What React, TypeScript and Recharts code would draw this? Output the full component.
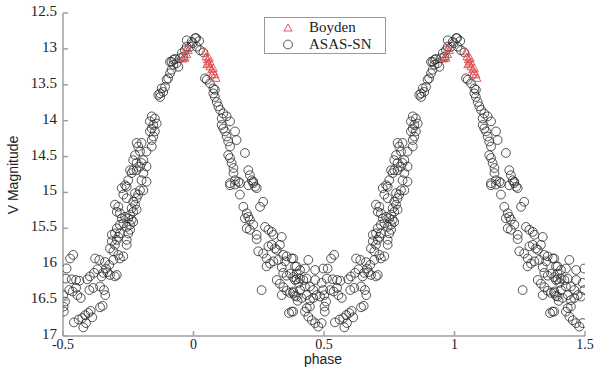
import { ScatterChart, Scatter, XAxis, YAxis, Label } from 'recharts';

const minimumLeft: [number, number][] = [
  [-0.486, 16.06], [-0.473, 15.92], [-0.461, 15.87], [-0.489, 16.2], [-0.467, 16.21], [-0.45, 16.22],
  [-0.437, 16.23], [-0.476, 16.36], [-0.463, 16.38], [-0.45, 16.33], [-0.445, 16.43], [-0.432, 16.47],
  [-0.499, 16.43], [-0.492, 16.52], [-0.498, 16.59], [-0.497, 16.66], [-0.458, 16.81], [-0.44, 16.77],
  [-0.426, 16.75], [-0.415, 16.71], [-0.412, 16.82], [-0.422, 16.88], [-0.403, 16.68], [-0.394, 16.65],
  [-0.388, 16.74], [-0.358, 16.6], [-0.348, 16.58], [-0.407, 16.21], [-0.397, 16.17], [-0.381, 16.12],
  [-0.368, 16.07], [-0.377, 15.92], [-0.361, 15.94], [-0.339, 15.97], [-0.335, 16.06], [-0.33, 16.11],
  [-0.32, 16.15], [-0.301, 16.17], [-0.294, 16.15], [-0.358, 16.31], [-0.343, 16.36], [-0.338, 16.43],
  [-0.384, 16.33], [-0.399, 16.36], [-0.346, 16.12], [-0.352, 16.17], [-0.323, 16.01], [-0.307, 15.94],
];

const risingLow: [number, number][] = [
  [-0.307, 15.82], [-0.32, 15.78], [-0.301, 15.73], [-0.313, 15.68], [-0.294, 15.66], [-0.288, 15.62],
  [-0.301, 15.57], [-0.313, 15.59], [-0.282, 15.57], [-0.294, 15.5], [-0.282, 15.45], [-0.269, 15.43],
  [-0.275, 15.36], [-0.262, 15.34], [-0.25, 15.36], [-0.237, 15.38], [-0.231, 15.41], [-0.243, 15.45],
  [-0.256, 15.48], [-0.243, 15.52], [-0.25, 15.57], [-0.256, 15.73], [-0.269, 15.89], [-0.282, 15.92],
  [-0.288, 15.87], [-0.256, 15.66], [-0.243, 15.31], [-0.231, 15.27], [-0.237, 15.22], [-0.218, 15.24],
  [-0.224, 15.17], [-0.231, 15.13], [-0.218, 15.08], [-0.212, 15.03], [-0.224, 15.01], [-0.205, 14.97],
  [-0.192, 14.97], [-0.256, 15.08], [-0.269, 15.03], [-0.275, 14.94], [-0.262, 14.9], [-0.301, 15.17],
  [-0.288, 15.2], [-0.282, 15.29], [-0.294, 15.27],
];

const risingHigh: [number, number][] = [
  [-0.256, 14.92], [-0.25, 14.83], [-0.237, 14.73], [-0.231, 14.69], [-0.243, 14.69], [-0.218, 14.69],
  [-0.205, 14.64], [-0.199, 14.59], [-0.18, 14.64], [-0.192, 14.73], [-0.199, 14.83], [-0.18, 14.85],
  [-0.231, 14.55], [-0.224, 14.48], [-0.218, 14.59], [-0.192, 14.55], [-0.212, 14.36], [-0.218, 14.31],
  [-0.199, 14.31], [-0.205, 14.43], [-0.18, 14.43], [-0.16, 14.36], [-0.16, 14.27], [-0.154, 14.22],
  [-0.148, 14.15], [-0.16, 14.11], [-0.154, 14.06], [-0.167, 14.01], [-0.16, 13.94], [-0.148, 13.97],
  [-0.141, 14.04], [-0.167, 14.15], [-0.135, 13.64], [-0.128, 13.62], [-0.116, 13.6], [-0.122, 13.55],
  [-0.109, 13.53], [-0.128, 13.67], [-0.103, 13.43], [-0.097, 13.41], [-0.09, 13.34], [-0.084, 13.29],
];

const peak: [number, number][] = [
  [-0.077, 13.22], [-0.084, 13.18], [-0.09, 13.18], [-0.077, 13.15], [-0.071, 13.14], [-0.065, 13.2],
  [-0.058, 13.25], [-0.052, 13.13], [-0.039, 13.11], [-0.045, 13.06], [-0.033, 13.02], [-0.026, 12.97],
  [-0.013, 12.97], [-0.007, 12.9], [-0.026, 12.88], [0.006, 12.85], [0.01, 12.85], [0.022, 12.89],
  [-0.003, 12.92], [0.012, 12.97], [0.025, 13.02], [0.038, 13.05],
];

const fallingHigh: [number, number][] = [
  [0.044, 13.41], [0.051, 13.43], [0.063, 13.48], [0.076, 13.55], [0.082, 13.57], [0.076, 13.62],
  [0.082, 13.67], [0.089, 13.74], [0.095, 13.8], [0.102, 13.85], [0.114, 13.9], [0.127, 13.94],
  [0.108, 13.97], [0.14, 14.01], [0.108, 14.06], [0.114, 14.11], [0.121, 14.15], [0.127, 14.22],
  [0.133, 14.29], [0.159, 14.15], [0.165, 14.27], [0.14, 14.36], [0.133, 14.48], [0.14, 14.52],
  [0.146, 14.59], [0.153, 14.66], [0.153, 14.73], [0.159, 14.83], [0.172, 14.85], [0.178, 14.87],
  [0.14, 14.87], [0.197, 14.45], [0.21, 14.69], [0.216, 14.76], [0.223, 14.83], [0.229, 14.87],
  [0.236, 14.92],
];

const fallingLow: [number, number][] = [
  [0.14, 14.9], [0.159, 14.89], [0.178, 15.03], [0.191, 15.2], [0.21, 14.9], [0.229, 14.85],
  [0.242, 14.94], [0.255, 15.2], [0.267, 15.13], [0.204, 15.29], [0.21, 15.34], [0.216, 15.38],
  [0.197, 15.36], [0.204, 15.5], [0.216, 15.52], [0.229, 15.45], [0.242, 15.59], [0.242, 15.65],
  [0.274, 15.48], [0.287, 15.52], [0.306, 15.59], [0.338, 15.62], [0.3, 15.55], [0.248, 15.82],
  [0.267, 15.85], [0.28, 15.92], [0.287, 15.75], [0.3, 15.73], [0.312, 15.78], [0.319, 15.8],
  [0.331, 15.73], [0.28, 16.03], [0.293, 15.99], [0.306, 15.96], [0.325, 15.94], [0.344, 15.87],
  [0.357, 15.89], [0.376, 15.92], [0.395, 16.03], [0.351, 15.96], [0.338, 16.04], [0.344, 16.12],
  [0.357, 16.16], [0.37, 16.13], [0.382, 16.18], [0.395, 16.21], [0.319, 16.22], [0.331, 16.27],
  [0.344, 16.32], [0.357, 16.37], [0.37, 16.4], [0.382, 16.38], [0.338, 16.43], [0.389, 16.44],
  [0.399, 16.51], [0.261, 16.36], [0.366, 16.68], [0.382, 16.66],
];

const minimumRight: [number, number][] = [
  [0.382, 15.92], [0.389, 16.03], [0.395, 16.13], [0.408, 16.2], [0.389, 16.22], [0.402, 16.26],
  [0.421, 16.22], [0.434, 16.2], [0.427, 16.31], [0.408, 16.36], [0.382, 16.4], [0.395, 16.45],
  [0.414, 16.47], [0.434, 16.43], [0.446, 16.5], [0.459, 16.47], [0.472, 16.43], [0.485, 16.45],
  [0.497, 16.36], [0.491, 16.26], [0.466, 16.22], [0.446, 16.31], [0.459, 16.36], [0.376, 16.66],
  [0.427, 16.66], [0.44, 16.73], [0.453, 16.78], [0.466, 16.82], [0.478, 16.87], [0.491, 16.82],
  [0.434, 16.61], [0.446, 16.59], [0.497, 16.06], [0.44, 15.94], [0.466, 16.08], [0.408, 16.08],
  [0.427, 16.06],
];

// Boyden observations near maximum
const boydenPoints: [number, number][] = [
  [-0.041, 13.14], [-0.033, 13.13], [-0.026, 13.08], [-0.026, 12.99], [-0.02, 13.02], [-0.036, 13.11],
  [0.044, 13.04], [0.048, 13.11], [0.053, 13.15], [0.057, 13.2], [0.063, 13.25], [0.07, 13.29],
  [0.076, 13.32], [0.082, 13.36], [0.086, 13.41], [0.063, 13.18], [0.051, 13.22], [0.076, 13.27],
  [0.07, 13.36], [0.06, 13.13],
];

const xTicks = [-0.5, 0, 0.5, 1, 1.5];
const yTicks = [12.5, 13, 13.5, 14, 14.5, 15, 15.5, 16, 16.5, 17];

// the folded curve is drawn twice, one cycle apart
const fold = (pts: [number, number][]) =>
  pts.flatMap(([p, m]) => [{ x: p, y: m }, { x: p + 1, y: m }]);

const asasData = fold([
  ...minimumLeft, ...risingLow, ...risingHigh, ...peak, ...fallingHigh, ...fallingLow, ...minimumRight,
]);
const boydenData = fold(boydenPoints);

const AXIS = '#a0a0a0';
const RED = '#e0484c';
const serif = 'Liberation Serif';
const sans = 'Liberation Sans';

const CircleShape = (props: any) => (
  <circle cx={props.cx} cy={props.cy} r={4.4} fill="none" stroke="#2a2a2a" strokeWidth={0.8} />
);

const TriangleShape = (props: any) => {
  const { cx, cy } = props;
  const s = 4;
  return (
    <polygon
      points={`${cx},${cy - s} ${cx - s},${cy + s * 0.75} ${cx + s},${cy + s * 0.75}`}
      fill="none"
      stroke={RED}
      strokeWidth={0.9}
    />
  );
};

const renderYTick = ({ x, y, payload }: any) => (
  <g key={`y-${payload.value}`}>
    <line x1={x + 5} x2={x + 10} y1={y} y2={y} stroke={AXIS} strokeWidth={1.5} />
    <text x={x - 1} y={y + 3} textAnchor="end" fontFamily={serif} fontSize={15} fill="#222">
      {payload.value}
    </text>
  </g>
);

const renderXTick = ({ x, y, payload }: any) => (
  <g key={`x-${payload.value}`}>
    <line x1={x} x2={x} y1={y - 5} y2={y - 10} stroke={AXIS} strokeWidth={1.5} />
    <text x={x} y={y + 8} textAnchor="middle" fontFamily={serif} fontSize={14} fill="#222">
      {payload.value}
    </text>
  </g>
);

const LegendBox = () => (
  <div
    style={{
      position: 'absolute',
      left: 264,
      top: 17,
      width: 122,
      height: 37,
      border: '1px solid #9a9a9a',
      background: '#fff',
      fontFamily: serif,
      fontSize: 15,
      color: '#222',
      boxSizing: 'border-box',
      paddingTop: 1,
    }}
  >
    <div style={{ display: 'flex', alignItems: 'center', height: 17 }}>
      <svg width={44} height={17}>
        <polygon points="23,5 19,12 27,12" fill="none" stroke={RED} strokeWidth={0.9} />
      </svg>
      <span>Boyden</span>
    </div>
    <div style={{ display: 'flex', alignItems: 'center', height: 17 }}>
      <svg width={44} height={17}>
        <circle cx={23} cy={8.5} r={4.4} fill="none" stroke="#2a2a2a" strokeWidth={0.8} />
      </svg>
      <span>ASAS-SN</span>
    </div>
  </div>
);

export default function App() {
  return (
    <div style={{ position: 'relative', width: 595, height: 367, background: '#fff' }}>
      <style>{'body{margin:0}'}</style>
      <ScatterChart width={595} height={367} margin={{ top: 13, right: 10, left: 0, bottom: 0 }}>
        <XAxis
          type="number"
          dataKey="x"
          domain={[-0.5, 1.5]}
          ticks={xTicks}
          allowDataOverflow
          stroke={AXIS}
          strokeWidth={1.5}
          tickLine={false}
          tickSize={5}
          tickMargin={0}
          height={31}
          tick={renderXTick}
        >
          <Label
            content={() => (
              <text x={323} y={364} textAnchor="middle" fontFamily={sans} fontSize={14} fill="#222">
                phase
              </text>
            )}
          />
        </XAxis>
        <YAxis
          type="number"
          dataKey="y"
          domain={[12.5, 17]}
          ticks={yTicks}
          reversed
          allowDataOverflow
          stroke={AXIS}
          strokeWidth={1.5}
          tickLine={false}
          tickSize={5}
          tickMargin={0}
          width={63}
          tick={renderYTick}
        >
          <Label
            content={() => (
              <text
                x={18}
                y={175}
                transform="rotate(-90 18 175)"
                textAnchor="middle"
                fontFamily={sans}
                fontSize={14}
                fill="#222"
              >
                V Magnitude
              </text>
            )}
          />
        </YAxis>
        <Scatter name="ASAS-SN" data={asasData} shape={<CircleShape />} isAnimationActive={false} />
        <Scatter name="Boyden" data={boydenData} shape={<TriangleShape />} isAnimationActive={false} />
      </ScatterChart>
      <LegendBox />
    </div>
  );
}
